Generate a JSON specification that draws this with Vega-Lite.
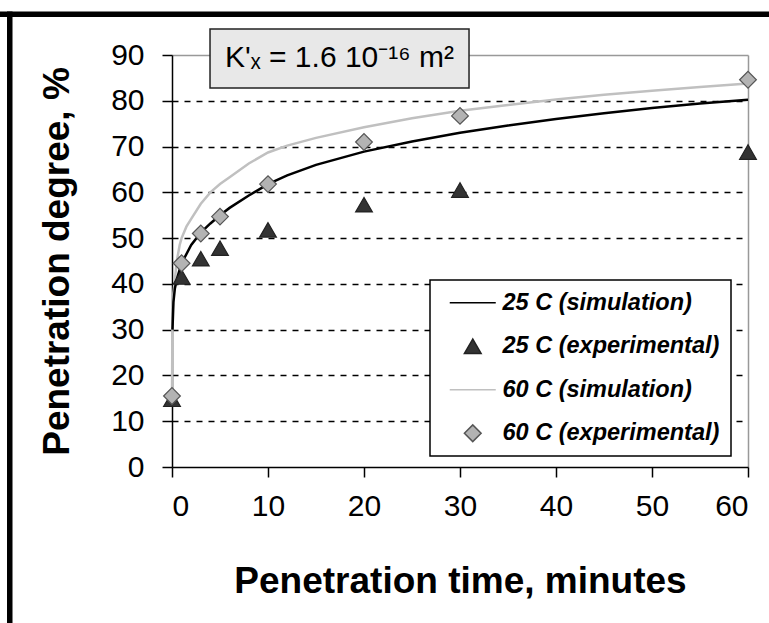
{
  "$schema": "https://vega.github.io/schema/vega-lite/v6.json",
  "width": 576,
  "height": 412,
  "autosize": {"type": "none"},
  "padding": {"left": 172, "top": 55, "right": 21, "bottom": 156},
  "background": "white",
  "config": {
    "view": {"stroke": null},
    "font": "Liberation Sans",
    "axis": {
      "labelFont": "Liberation Sans",
      "titleFont": "Liberation Sans",
      "labelColor": "black",
      "titleColor": "black",
      "domainColor": "black",
      "tickColor": "black",
      "domainWidth": 1.5,
      "tickWidth": 1.5,
      "tickSize": 10,
      "labelFontSize": 30,
      "titleFontSize": 37,
      "titleFontWeight": "bold"
    }
  },
  "datasets": {
    "main": [
      {"t": 0.05, "pct": 30, "series": "25 C (simulation)"},
      {"t": 0.15, "pct": 36, "series": "25 C (simulation)"},
      {"t": 0.3, "pct": 39, "series": "25 C (simulation)"},
      {"t": 0.5, "pct": 41, "series": "25 C (simulation)"},
      {"t": 1, "pct": 44.5, "series": "25 C (simulation)"},
      {"t": 2, "pct": 48.5, "series": "25 C (simulation)"},
      {"t": 3, "pct": 51.2, "series": "25 C (simulation)"},
      {"t": 4, "pct": 53.2, "series": "25 C (simulation)"},
      {"t": 5, "pct": 55, "series": "25 C (simulation)"},
      {"t": 6, "pct": 56.6, "series": "25 C (simulation)"},
      {"t": 8, "pct": 59.3, "series": "25 C (simulation)"},
      {"t": 10, "pct": 61.8, "series": "25 C (simulation)"},
      {"t": 12, "pct": 63.7, "series": "25 C (simulation)"},
      {"t": 15, "pct": 66, "series": "25 C (simulation)"},
      {"t": 20, "pct": 68.9, "series": "25 C (simulation)"},
      {"t": 25, "pct": 71.1, "series": "25 C (simulation)"},
      {"t": 30, "pct": 73, "series": "25 C (simulation)"},
      {"t": 35, "pct": 74.6, "series": "25 C (simulation)"},
      {"t": 40, "pct": 76, "series": "25 C (simulation)"},
      {"t": 45, "pct": 77.3, "series": "25 C (simulation)"},
      {"t": 50, "pct": 78.4, "series": "25 C (simulation)"},
      {"t": 55, "pct": 79.4, "series": "25 C (simulation)"},
      {"t": 60, "pct": 80.2, "series": "25 C (simulation)"},
      {"t": 0, "pct": 15, "series": "60 C (simulation)"},
      {"t": 0.05, "pct": 33, "series": "60 C (simulation)"},
      {"t": 0.15, "pct": 38, "series": "60 C (simulation)"},
      {"t": 0.3, "pct": 41, "series": "60 C (simulation)"},
      {"t": 0.5, "pct": 45, "series": "60 C (simulation)"},
      {"t": 0.8, "pct": 48.5, "series": "60 C (simulation)"},
      {"t": 1, "pct": 50, "series": "60 C (simulation)"},
      {"t": 1.5, "pct": 52.5, "series": "60 C (simulation)"},
      {"t": 2, "pct": 54.2, "series": "60 C (simulation)"},
      {"t": 3, "pct": 57.5, "series": "60 C (simulation)"},
      {"t": 4, "pct": 60, "series": "60 C (simulation)"},
      {"t": 5, "pct": 61.8, "series": "60 C (simulation)"},
      {"t": 6, "pct": 63.3, "series": "60 C (simulation)"},
      {"t": 8, "pct": 66.3, "series": "60 C (simulation)"},
      {"t": 10, "pct": 68.7, "series": "60 C (simulation)"},
      {"t": 12, "pct": 70.2, "series": "60 C (simulation)"},
      {"t": 15, "pct": 71.9, "series": "60 C (simulation)"},
      {"t": 20, "pct": 74.2, "series": "60 C (simulation)"},
      {"t": 25, "pct": 76.2, "series": "60 C (simulation)"},
      {"t": 30, "pct": 77.8, "series": "60 C (simulation)"},
      {"t": 35, "pct": 79.1, "series": "60 C (simulation)"},
      {"t": 40, "pct": 80.3, "series": "60 C (simulation)"},
      {"t": 45, "pct": 81.3, "series": "60 C (simulation)"},
      {"t": 50, "pct": 82.2, "series": "60 C (simulation)"},
      {"t": 55, "pct": 83, "series": "60 C (simulation)"},
      {"t": 60, "pct": 83.8, "series": "60 C (simulation)"},
      {"t": 0, "pct": 14.8, "series": "25 C (experimental)"},
      {"t": 1, "pct": 41.5, "series": "25 C (experimental)"},
      {"t": 3, "pct": 45.5, "series": "25 C (experimental)"},
      {"t": 5, "pct": 47.8, "series": "25 C (experimental)"},
      {"t": 10, "pct": 51.8, "series": "25 C (experimental)"},
      {"t": 20, "pct": 57.3, "series": "25 C (experimental)"},
      {"t": 30, "pct": 60.5, "series": "25 C (experimental)"},
      {"t": 60, "pct": 68.8, "series": "25 C (experimental)"},
      {"t": 0, "pct": 15.5, "series": "60 C (experimental)"},
      {"t": 1, "pct": 44.5, "series": "60 C (experimental)"},
      {"t": 3, "pct": 51, "series": "60 C (experimental)"},
      {"t": 5, "pct": 54.7, "series": "60 C (experimental)"},
      {"t": 10, "pct": 61.8, "series": "60 C (experimental)"},
      {"t": 20, "pct": 71, "series": "60 C (experimental)"},
      {"t": 30, "pct": 76.7, "series": "60 C (experimental)"},
      {"t": 60, "pct": 84.6, "series": "60 C (experimental)"}
    ]
  },
  "layer": [
    {
      "data": {"name": "main"},
      "transform": [{"filter": "datum.series == '60 C (simulation)'"}],
      "mark": {"type": "line", "strokeWidth": 2.5, "color": "#c0c0c0"},
      "encoding": {
        "x": {
          "field": "t",
          "type": "quantitative",
          "scale": {"domain": [0, 60], "nice": false, "zero": false},
          "axis": {
            "values": [0, 10, 20, 30, 40, 50, 60],
            "grid": true,
            "gridColor": {"condition": {"test": "datum.value === 60", "value": "#999999"}, "value": "transparent"},
            "gridWidth": 1.5,
            "labelPadding": 14,
            "title": "Penetration time, minutes",
            "titleX": 288,
            "titleY": 125,
            "titleBaseline": "alphabetic"
          }
        },
        "y": {
          "field": "pct",
          "type": "quantitative",
          "scale": {"domain": [0, 90], "nice": false},
          "axis": {
            "values": [0, 10, 20, 30, 40, 50, 60, 70, 80, 90],
            "grid": true,
            "gridColor": {"condition": [{"test": "datum.value === 90", "value": "#999999"}, {"test": "datum.value === 0", "value": "transparent"}], "value": "black"},
            "gridDash": {"condition": {"test": "datum.value === 90", "value": []}, "value": [6, 6]},
            "gridWidth": 1.5,
            "labelPadding": 18,
            "title": "Penetration degree, %",
            "titleAngle": 270,
            "titleX": -104,
            "titleY": 206,
            "titleBaseline": "alphabetic",
            "titleAlign": "center"
          }
        }
      }
    },
    {
      "data": {"name": "main"},
      "transform": [{"filter": "datum.series == '25 C (simulation)'"}],
      "mark": {"type": "line", "strokeWidth": 2.5, "color": "#000000"},
      "encoding": {
        "x": {"field": "t", "type": "quantitative"},
        "y": {"field": "pct", "type": "quantitative"}
      }
    },
    {
      "data": {"values": [{}]},
      "mark": {"type": "rule", "color": "black", "strokeWidth": 5.5},
      "encoding": {
        "x": {"datum": -20},
        "x2": {"datum": 70},
        "y": {"datum": 98.9}
      }
    },
    {
      "data": {"values": [{}]},
      "mark": {"type": "rule", "color": "black", "strokeWidth": 5.5},
      "encoding": {
        "x": {"datum": -16.9},
        "y": {"datum": -40},
        "y2": {"datum": 99.5}
      }
    },
    {
      "data": {"values": [{}]},
      "mark": {"type": "rect", "fill": "#e8e8e8", "stroke": "#222222", "strokeWidth": 1.5},
      "encoding": {
        "x": {"datum": 3.96},
        "x2": {"datum": 30.94},
        "y": {"datum": 95.7},
        "y2": {"datum": 82.8}
      }
    },
    {
      "data": {"values": [{"label": "K'ₓ = 1.6 10⁻¹⁶ m²"}]},
      "mark": {"type": "text", "fontSize": 30, "font": "Liberation Sans", "color": "black", "baseline": "middle", "align": "center"},
      "encoding": {
        "x": {"datum": 17.45},
        "y": {"datum": 89.3},
        "text": {"field": "label"}
      }
    },
    {
      "data": {"name": "main"},
      "transform": [{"filter": "indexof(datum.series, 'experimental') >= 0"}],
      "mark": {"type": "point", "filled": true, "size": 280, "strokeWidth": 1.2, "opacity": 1},
      "encoding": {
        "x": {"field": "t", "type": "quantitative"},
        "y": {"field": "pct", "type": "quantitative"},
        "shape": {
          "field": "series",
          "type": "nominal",
          "scale": {
            "domain": ["25 C (simulation)", "25 C (experimental)", "60 C (simulation)", "60 C (experimental)"],
            "range": ["M-2.75,0L2.75,0", "triangle-up", "M-2.75,0L2.75,0", "diamond"]
          }
        },
        "stroke": {
          "field": "series",
          "type": "nominal",
          "scale": {
            "domain": ["25 C (simulation)", "25 C (experimental)", "60 C (simulation)", "60 C (experimental)"],
            "range": ["#000000", "#222222", "#c0c0c0", "#555555"]
          }
        },
        "color": {
          "field": "series",
          "type": "nominal",
          "scale": {
            "domain": ["25 C (simulation)", "25 C (experimental)", "60 C (simulation)", "60 C (experimental)"],
            "range": ["#000000", "#333333", "#c0c0c0", "#b3b3b3"]
          },
          "legend": {
            "title": null,
            "orient": "none",
            "legendX": 258,
            "legendY": 225,
            "fillColor": "white",
            "strokeColor": "black",
            "padding": 11,
            "rowPadding": 18.5,
            "labelFont": "Liberation Sans",
            "labelFontSize": 23.5,
            "labelFontStyle": "italic",
            "labelFontWeight": "bold",
            "labelColor": "black",
            "labelLimit": 400,
            "labelOffset": 18,
            "symbolOffset": 20,
            "symbolSize": 280,
            "symbolStrokeWidth": 1.5,
            "encoding": {
              "legend": {"strokeWidth": {"value": 1.5}}
            }
          }
        }
      }
    }
  ]
}
